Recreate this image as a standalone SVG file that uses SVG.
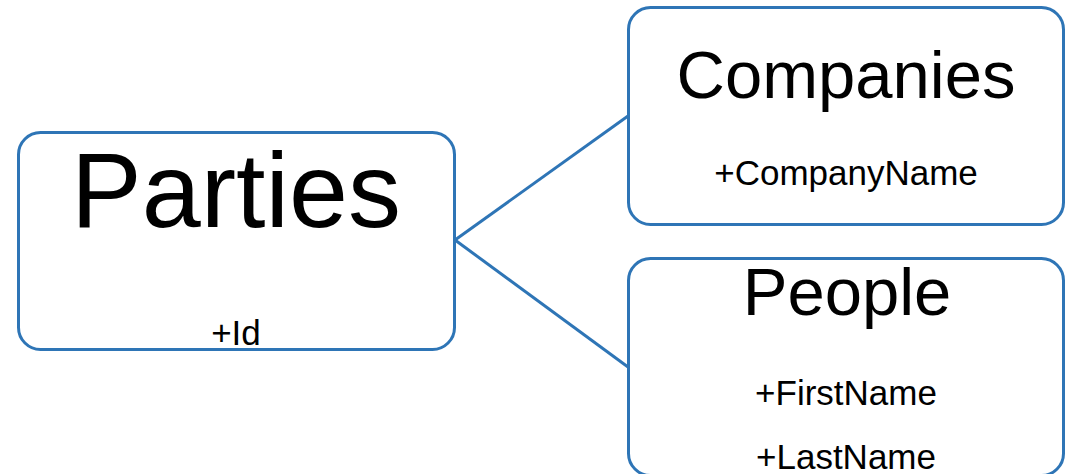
<svg xmlns="http://www.w3.org/2000/svg" width="1071" height="474" viewBox="0 0 1071 474">
<style>
.box{fill:#fff;stroke:#2e75b6;stroke-width:3}
.conn{stroke:#2e75b6;stroke-width:3;fill:none}
text{font-family:"Liberation Sans",Arial,sans-serif;fill:#000;text-anchor:middle}
.title{font-size:67px}
.attr{font-size:35px}
</style>
<rect width="1071" height="474" fill="#fff"/>
<g id="connectors">
<line class="conn" x1="455" y1="240" x2="628" y2="116"/>
<line class="conn" x1="455" y1="240" x2="628" y2="367"/>
</g>
<g id="parties">
<rect class="box" x="18.5" y="132.5" width="436" height="217" rx="22"/>
<text x="236" y="227" style="font-size:106px">Parties</text>
<text class="attr" x="236" y="345">+Id</text>
</g>
<g id="companies">
<rect class="box" x="628.5" y="7.5" width="435" height="217" rx="22"/>
<text class="title" x="846" y="98">Companies</text>
<text class="attr" x="846" y="185">+CompanyName</text>
</g>
<g id="people">
<rect class="box" x="628.5" y="258.5" width="435" height="217" rx="22"/>
<text class="title" x="847" y="315">People</text>
<text class="attr" x="846" y="405">+FirstName</text>
<text class="attr" x="846" y="469">+LastName</text>
</g>
</svg>
